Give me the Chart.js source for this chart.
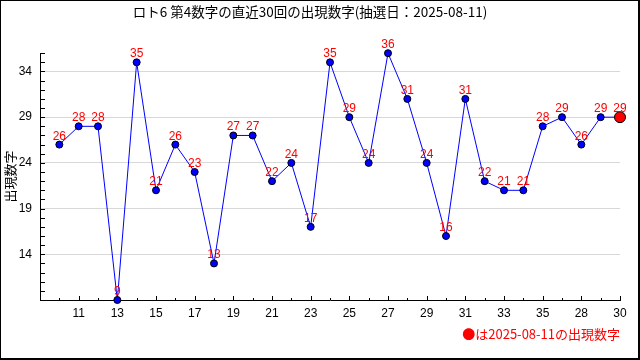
<!DOCTYPE html>
<html><head><meta charset="utf-8">
<script src="https://cdn.jsdelivr.net/npm/chart.js@4"></script>
<style>html,body{margin:0;padding:0;background:#fff}canvas{display:block}</style>
</head><body>
<canvas id="c" width="640" height="360"></canvas>
<script>
const titleText = 'ロト6 第4数字の直近30回の出現数字(抽選日：2025-08-11)';
const noteText = '●は2025-08-11の出現数字';
const yTitle = '出現数字';
const xLabels = ['10','11','12','13','14','15','16','17','18','19','20','21','22','23','24','25','26','27','28','29','30','31','32','33','34','35','36','28','29','30'];
const values = [26,28,28,9,35,21,26,23,13,27,27,22,24,17,35,29,24,36,31,24,16,31,22,21,21,28,29,26,29,29];
const yMajor = [14,19,24,29,34];
const yMin = 9, yMax = 36;

const JP = '"Noto Sans CJK JP", sans-serif';
const NUM = '"Liberation Sans", sans-serif';
const last = values.length - 1;

const decor = {
  id: 'decor',
  beforeDraw(chart) {
    const c = chart.ctx;
    c.save(); c.fillStyle = '#fff'; c.fillRect(0, 0, chart.width, chart.height); c.restore();
  },
  beforeDatasetsDraw(chart) {
    const c = chart.ctx, a = chart.chartArea, xs = chart.scales.x, ys = chart.scales.y;
    c.save(); c.strokeStyle = '#000'; c.lineWidth = 1;
    for (let i = 0; i < values.length; i++) {
      const px = Math.round(xs.getPixelForValue(i)) + 0.5;
      const len = (i % 2 === 1) ? 4 : 2;
      c.beginPath(); c.moveTo(px, a.bottom); c.lineTo(px, a.bottom - len); c.stroke();
    }
    for (let v = yMin + 1; v <= yMax; v++) {
      const py = Math.round(ys.getPixelForValue(v)) + 0.5;
      c.beginPath(); c.moveTo(a.left, py); c.lineTo(a.left + 5, py); c.stroke();
    }
    c.restore();
  },
  afterDatasetsDraw(chart) {
    const c = chart.ctx, meta = chart.getDatasetMeta(0);
    c.save(); c.fillStyle = '#ff0000'; c.font = '12px ' + NUM;
    c.textAlign = 'center'; c.textBaseline = 'alphabetic';
    meta.data.forEach((p, i) => c.fillText(String(values[i]), p.x, p.y - 5));
    c.restore();
  },
  afterDraw(chart) {
    const c = chart.ctx;
    c.save(); c.fillStyle = '#000';
    c.fillRect(0, 0, 640, 1); c.fillRect(0, 0, 1, 360);
    c.fillRect(638, 0, 2, 360); c.fillRect(0, 358, 640, 2);
    c.restore();
  }
};

new Chart(document.getElementById('c'), {
  type: 'line',
  data: {
    datasets: [{
      data: values.map((v, i) => ({ x: i, y: v })),
      borderColor: '#0000ff', borderWidth: 1, tension: 0, fill: false,
      pointBackgroundColor: values.map((v, i) => i === last ? '#ff0000' : '#0000ff'),
      pointBorderColor: '#000', pointBorderWidth: 1,
      pointRadius: values.map((v, i) => i === last ? 5.5 : 3.5),
      clip: false
    }]
  },
  options: {
    responsive: false, animation: false, devicePixelRatio: 1,
    layout: { padding: { left: 0, right: 20, top: 0, bottom: 0 } },
    plugins: {
      legend: { display: false }, tooltip: { enabled: false },
      title: { display: true, text: titleText, color: '#000',
        font: { family: JP, size: 13.5, weight: 'normal' }, padding: { top: 4, bottom: 33 } },
      subtitle: { display: true, position: 'bottom', align: 'end', text: noteText, color: '#ff0000',
        font: { family: JP, size: 13, weight: 'normal' }, padding: { top: 0, bottom: 18 } }
    },
    scales: {
      x: {
        type: 'linear', min: -1, max: 29,
        ticks: { stepSize: 1, autoSkip: false, maxRotation: 0, color: '#000', padding: 6,
          font: { family: NUM, size: 12 },
          callback: v => (Number.isInteger(v) && v >= 0 && v % 2 === 1) ? xLabels[v] : '' },
        grid: { display: false, drawTicks: false },
        border: { display: true, color: '#000', width: 1 },
        afterFit: s => { s.height = 26.4; }
      },
      y: {
        min: yMin, max: yMax,
        ticks: { stepSize: 1, autoSkip: false, color: '#000', padding: 8,
          font: { family: NUM, size: 12 },
          callback: v => yMajor.includes(v) ? String(v) : '' },
        grid: { drawTicks: false, color: c => (c.tick && yMajor.includes(c.tick.value)) ? '#d8d8d8' : 'rgba(0,0,0,0)' },
        border: { display: true, color: '#000', width: 1 },
        title: { display: true, text: yTitle, color: '#000', font: { family: JP, size: 13, weight: 'normal' }, padding: { top: 2, bottom: 0 } },
        afterFit: s => { s.width = 40; }
      }
    }
  },
  plugins: [decor]
});
</script>
</body></html>
